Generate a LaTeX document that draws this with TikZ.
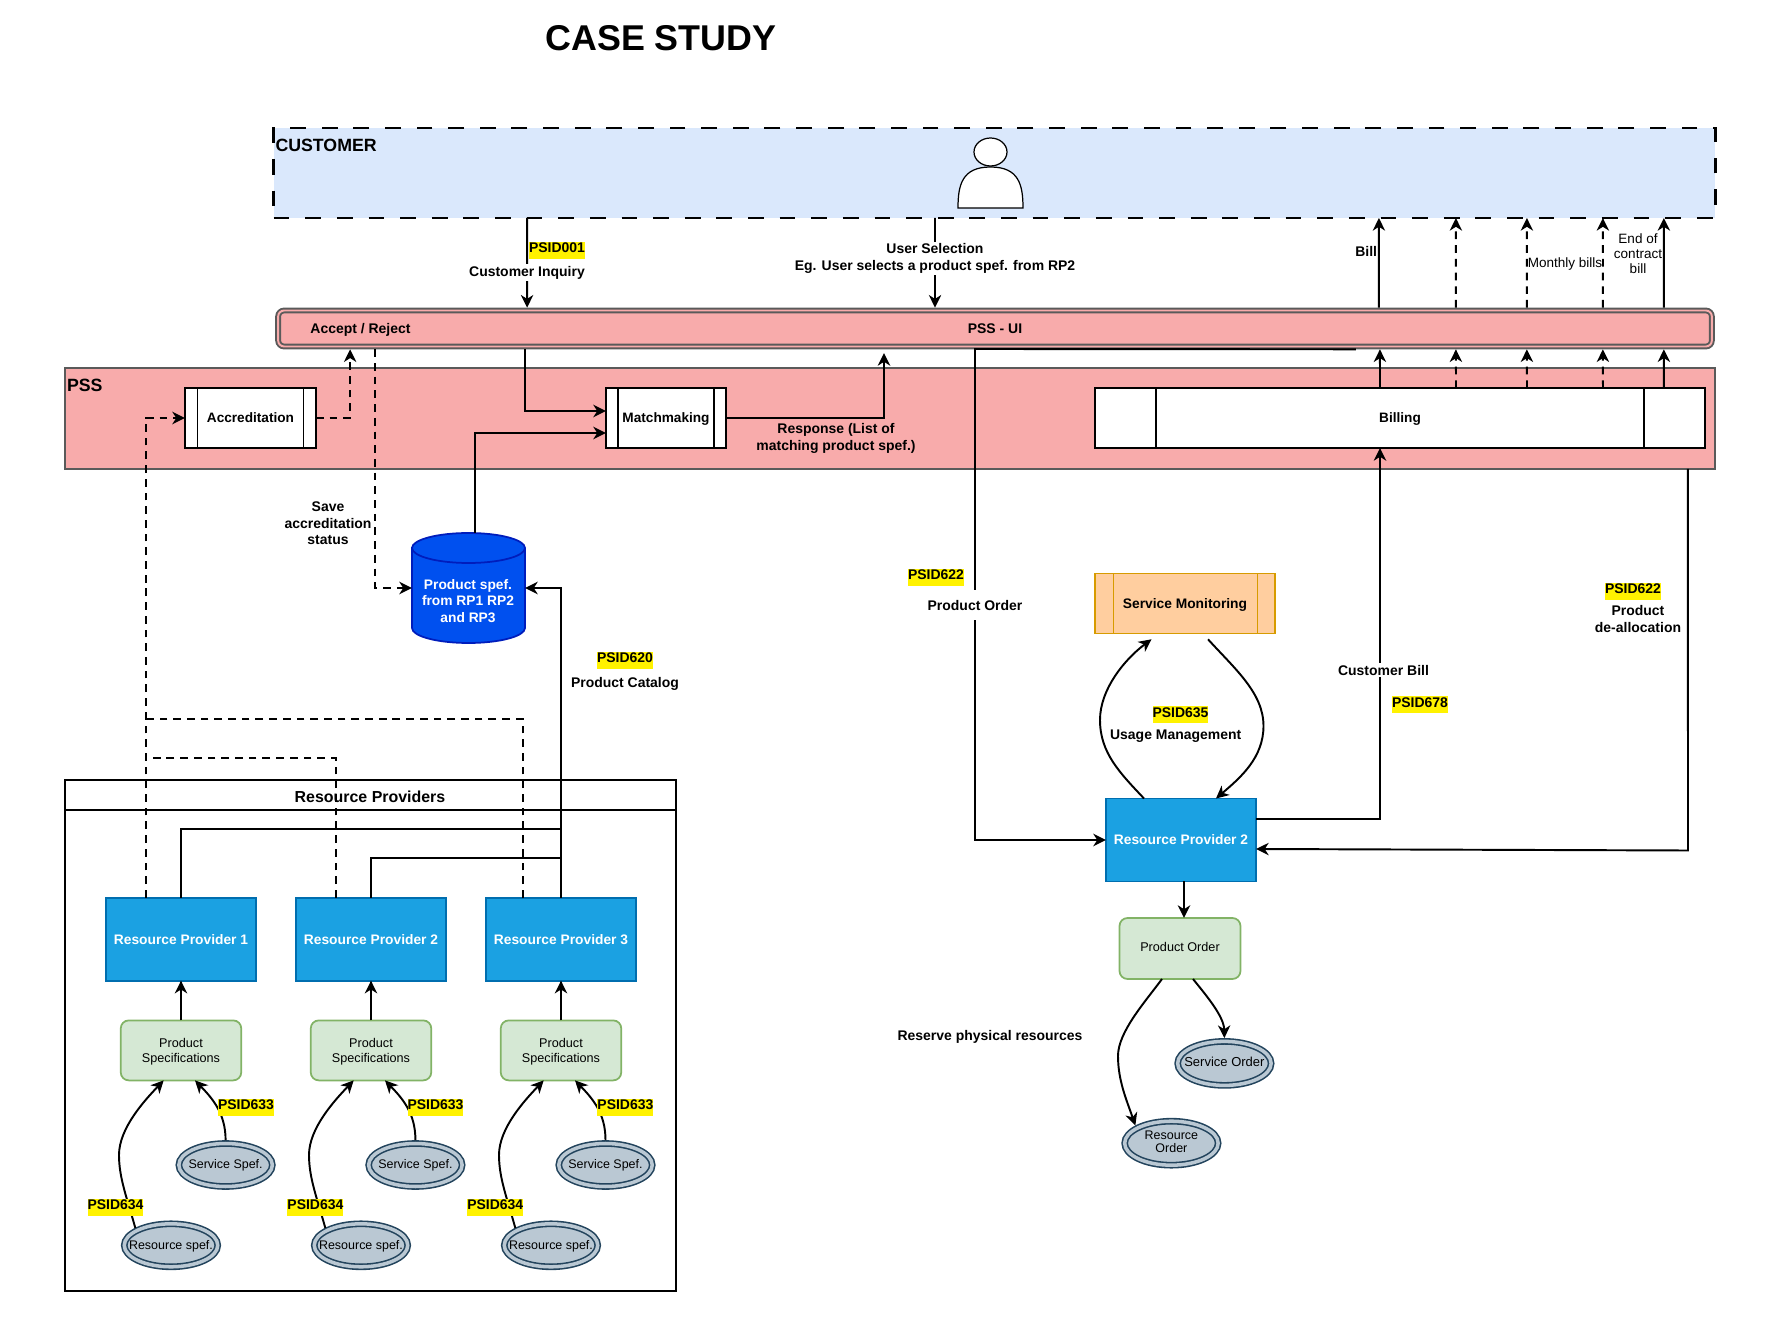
\documentclass[tikz,border=0pt]{standalone}
\usepackage{fontspec}
\setmainfont{Liberation Sans}
\usetikzlibrary{arrows.meta,shapes.geometric}
\definecolor{custfill}{HTML}{DAE8FC}
\definecolor{pssfill}{HTML}{F8ABAB}
\definecolor{pssline}{HTML}{5A5A5A}
\definecolor{rpfill}{HTML}{1BA1E2}
\definecolor{rpline}{HTML}{006EAF}
\definecolor{dbfill}{HTML}{0050EF}
\definecolor{dbline}{HTML}{001DBC}
\definecolor{specfill}{HTML}{D5E8D4}
\definecolor{specline}{HTML}{82B366}
\definecolor{ovalfill}{HTML}{BAC8D3}
\definecolor{ovalline}{HTML}{23445D}
\definecolor{monfill}{HTML}{FFCE9F}
\definecolor{monline}{HTML}{D79B00}
\tikzset{
  every node/.style={outer sep=0pt, inner sep=0pt, align=center, font=\fontsize{7.76}{9.6}\selectfont},
  lbl/.style={font=\bfseries\fontsize{7.95}{9.6}\selectfont, yshift=-0.7pt},
  lblw/.style={lbl, fill=white, inner ysep=1pt},
  tag/.style={lbl, fill=yellow, text height=6.3pt, text depth=3.3pt},
  small/.style={font=\fontsize{7.7}{8.6}\selectfont},
  flow/.style={-{Stealth[length=7.2pt,width=7pt,inset=2.2pt]}, line width=1.1pt},
  dashline/.style={line width=1.1pt, dash pattern=on 4.4pt off 3.4pt},
  dashflow/.style={dashline, -{Stealth[length=7.2pt,width=7pt,inset=2.2pt]}},
  procbox/.style={draw, fill=white, line width=0.9pt, minimum height=1.2cm, text height=6.4pt, text depth=1pt, font=\bfseries\fontsize{7.76}{9.6}\selectfont},
  rpbox/.style={draw=rpline, fill=rpfill, line width=1pt, text=white, minimum width=3cm, minimum height=1.66cm, font=\bfseries\fontsize{7.85}{9.6}\selectfont},
  specbox/.style={draw=specline, fill=specfill, line width=1pt, rounded corners=0.16cm, minimum width=2.41cm, minimum height=1.2cm, text depth=0.4pt, font=\fontsize{7.2}{8.6}\selectfont},
  oval/.style={ellipse, draw=ovalline, double=ovalfill, double distance=2pt, fill=ovalfill, line width=0.9pt, inner xsep=-14pt, inner ysep=-4pt, outer sep=1.9pt, minimum width=1.87cm, minimum height=0.86cm, text depth=0.6pt, font=\fontsize{7.1}{7.9}\selectfont}
}
\begin{document}
\begin{tikzpicture}[x=0.02cm, y=-0.02cm]
  \useasboundingbox (0,0) rectangle (1786,1337);

  % Title
  \node[font=\bfseries\fontsize{20.4}{24}\selectfont] (title) at (661,38) {CASE STUDY};

  % Customer
  \node[draw, fill=custfill, line width=1.4pt, dash pattern=on 9pt off 9pt, minimum width=28.84cm, minimum height=1.8cm] (customer) at (994.5,173) {};
  \node[font=\bfseries\fontsize{10.1}{12}\selectfont, anchor=west] (custname) at (275.5,145) {CUSTOMER};
  \draw[fill=white, line width=0.7pt] (958,208) .. controls (958,185) and (962,167) .. (990.5,167) .. controls (1019,167) and (1023,185) .. (1023,208) -- cycle;
  \draw[fill=white, line width=0.7pt] (990.5,152) ellipse [x radius=16.5, y radius=14];

  % PSS
  \node[draw=pssline, fill=pssfill, line width=1.1pt, minimum width=33cm, minimum height=2.02cm] (pss) at (890,418.5) {};
  \node[font=\bfseries\fontsize{10.1}{12}\selectfont, anchor=west] (pssname) at (67,385) {PSS};
  \node[draw=pssline, double=pssfill, double distance=1.1pt, fill=pssfill, line width=1.1pt, rounded corners=0.12cm, outer sep=1.6pt, minimum width=28.68cm, minimum height=0.72cm] (ui) at (995,328.5) {};
  \node[lbl] (accept) at (360.5,329) {Accept / Reject};
  \node[lbl] (uiname) at (995,327) {PSS - UI};

  % Processes
  \node[procbox, minimum width=2.62cm] (acc) at (250.5,418) {Accreditation};
  \draw[line width=0.7pt] ([xshift=0.25cm]acc.north west) -- ([xshift=0.25cm]acc.south west);
  \draw[line width=0.7pt] ([xshift=-0.25cm]acc.north east) -- ([xshift=-0.25cm]acc.south east);
  \node[procbox, minimum width=2.4cm] (match) at (666,418) {Matchmaking};
  \draw[line width=0.7pt] ([xshift=0.24cm]match.north west) -- ([xshift=0.24cm]match.south west);
  \draw[line width=0.7pt] ([xshift=-0.24cm]match.north east) -- ([xshift=-0.24cm]match.south east);
  \node[procbox, minimum width=12.2cm] (billing) at (1400,418) {Billing};
  \draw[line width=0.7pt] ([xshift=1.22cm]billing.north west) -- ([xshift=1.22cm]billing.south west);
  \draw[line width=0.7pt] ([xshift=-1.22cm]billing.north east) -- ([xshift=-1.22cm]billing.south east);

  % Catalog
  \draw[draw=dbline, fill=dbfill, line width=1pt] (412,548) -- (412,628) arc [start angle=180, end angle=0, x radius=56.5, y radius=15] -- (525,548) arc [start angle=0, end angle=-180, x radius=56.5, y radius=15] -- cycle;
  \draw[draw=dbline, line width=1pt] (412,548) arc [start angle=180, end angle=0, x radius=56.5, y radius=15];
  \node[minimum width=2.26cm, minimum height=2.2cm] (db) at (468.5,588) {};
  \node[text=white, font=\bfseries\fontsize{7.85}{9.6}\selectfont] (dbname) at (468,601) {Product spef.\\from RP1 RP2\\and RP3};

  % Resource providers group
  \draw[line width=1.1pt] (65,780) rectangle (676,1291);
  \draw[line width=1.1pt] (65,810) -- (676,810);
  \node[font=\bfseries\fontsize{9.07}{11}\selectfont] (groupname) at (370,796.5) {Resource Providers};
  \node[rpbox] (rp1) at (181,939.2) {Resource Provider 1};
  \node[rpbox] (rp2) at (371,939.2) {Resource Provider 2};
  \node[rpbox] (rp3) at (561,939.2) {Resource Provider 3};
  \node[specbox] (spec1) at (181,1050.4) {Product\\Specifications};
  \node[specbox] (spec2) at (371,1050.4) {Product\\Specifications};
  \node[specbox] (spec3) at (561,1050.4) {Product\\Specifications};
  \node[oval] (serv1) at (225.6,1165) {Service Spef.};
  \node[oval] (serv2) at (415.4,1165) {Service Spef.};
  \node[oval] (serv3) at (605.5,1165) {Service Spef.};
  \node[oval] (res1) at (171,1245.3) {Resource spef.};
  \node[oval] (res2) at (361,1245.3) {Resource spef.};
  \node[oval] (res3) at (551,1245.3) {Resource spef.};

  % Right side
  \node[draw=monline, fill=monfill, line width=0.9pt, minimum width=3.6cm, minimum height=1.2cm, text height=6.4pt, text depth=1pt, font=\bfseries\fontsize{7.85}{9.6}\selectfont] (mon) at (1185,603.3) {Service Monitoring};
  \draw[monline, line width=0.7pt] ([xshift=0.37cm]mon.north west) -- ([xshift=0.37cm]mon.south west);
  \draw[monline, line width=0.7pt] ([xshift=-0.35cm]mon.north east) -- ([xshift=-0.35cm]mon.south east);
  \node[rpbox] (rpm) at (1181,840) {Resource Provider 2};
  \node[specbox, minimum width=2.42cm, minimum height=1.22cm, text depth=1.5pt] (po) at (1180,948.5) {Product Order};
  \node[oval, font=\fontsize{7.4}{7.9}\selectfont, minimum height=0.88cm, text depth=2pt] (so) at (1224.4,1063.4) {Service Order};
  \node[oval, minimum height=0.88cm, text depth=1.7pt] (ro) at (1171.4,1143.2) {Resource\\Order};

  % Customer and UI
  \draw[flow] ([xshift=-9.35cm]customer.south) -- ([xshift=-9.36cm]ui.north);
  \draw[flow] ([xshift=-1.19cm]customer.south) -- ([xshift=-1.2cm]ui.north);
  \draw[flow] ([xshift=7.68cm]ui.north) -- ([xshift=7.69cm]customer.south);
  \draw[dashflow] ([xshift=9.22cm]ui.north) -- ([xshift=9.23cm]customer.south);
  \draw[dashflow] ([xshift=10.64cm]ui.north) -- ([xshift=10.65cm]customer.south);
  \draw[dashflow] ([xshift=12.16cm]ui.north) -- ([xshift=12.17cm]customer.south);
  \draw[flow] ([xshift=13.38cm]ui.north) -- ([xshift=13.39cm]customer.south);

  % Billing to UI
  \draw[flow] ([xshift=-0.4cm]billing.north) -- ([xshift=7.7cm]ui.south);
  \draw[dashflow] ([xshift=1.12cm]billing.north) -- ([xshift=9.22cm]ui.south);
  \draw[dashflow] ([xshift=2.54cm]billing.north) -- ([xshift=10.64cm]ui.south);
  \draw[dashflow] ([xshift=4.06cm]billing.north) -- ([xshift=12.16cm]ui.south);
  \draw[flow] ([xshift=5.28cm]billing.north) -- ([xshift=13.38cm]ui.south);

  % UI, processes and catalog
  \coordinate (respend) at (884,353);
  \draw[dashflow] (acc.east) -| ([xshift=-12.9cm]ui.south);
  \draw[dashflow] ([xshift=-12.4cm]ui.south) |- (db.west);
  \draw[flow] ([xshift=-9.4cm]ui.south) |- ([yshift=0.14cm]match.west);
  \draw[flow] ([xshift=0.13cm]db.north) |- ([yshift=-0.3cm]match.west);
  \draw[flow] (match.east) -| (respend);

  % Providers to catalog and accreditation
  \coordinate (joina) at (561,829);
  \coordinate (joinb) at (561,858);
  \coordinate (busa) at (146,758);
  \coordinate (busb) at (146,719);
  \draw[flow] (rp3.north) |- (db.east);
  \draw[line width=1.1pt] (rp1.north) |- (joina);
  \draw[line width=1.1pt] (rp2.north) |- (joinb);
  \draw[dashflow] ([xshift=-0.7cm]rp1.north) |- (acc.west);
  \draw[dashline] ([xshift=-0.7cm]rp2.north) |- (busa);
  \draw[dashline] ([xshift=-0.76cm]rp3.north) |- (busb);

  % Specifications
  \draw[flow] (spec1.north) -- (rp1.south);
  \draw[flow] (spec2.north) -- (rp2.south);
  \draw[flow] (spec3.north) -- (rp3.south);
  \draw[flow] (serv1.north) .. controls (225.6,1113) and (212,1098) .. (spec1.295);
  \draw[flow] (serv2.north) .. controls (415.6,1113) and (402,1098) .. (spec2.295);
  \draw[flow] (serv3.north) .. controls (605.6,1113) and (592,1098) .. (spec3.295);
  \draw[flow] (res1.154) .. controls (127,1198) and (119,1178) .. (119,1155) .. controls (119,1128) and (145,1100) .. (spec1.240);
  \draw[flow] (res2.154) .. controls (317,1198) and (309,1178) .. (309,1155) .. controls (309,1128) and (335,1100) .. (spec2.240);
  \draw[flow] (res3.154) .. controls (507,1198) and (499,1178) .. (499,1155) .. controls (499,1128) and (525,1100) .. (spec3.240);

  % Orders
  \coordinate (ordturn) at (975,349);
  \coordinate (dealloc) at (1688,850.5);
  \draw[flow] ([xshift=7.22cm]ui.south) -- (ordturn) |- (rpm.west);
  \draw[flow] ([yshift=0.42cm]rpm.east) -| ([xshift=-0.4cm]billing.south);
  \draw[flow] ([xshift=15.96cm]pss.south) -- (dealloc) -- ([yshift=-0.18cm]rpm.east);
  \draw[flow] ([xshift=-0.74cm]rpm.north) .. controls (1120,773) and (1100,753) .. (1100,720) .. controls (1100,689) and (1125,659) .. ([xshift=-0.67cm,yshift=-0.12cm]mon.south);
  \draw[flow] ([xshift=0.46cm,yshift=-0.12cm]mon.south) .. controls (1235,669) and (1263.5,693) .. (1263.5,726) .. controls (1263.5,758) and (1240,778) .. ([xshift=0.7cm]rpm.north);
  \draw[flow] ([xshift=0.06cm]rpm.south) -- ([xshift=0.08cm]po.north);
  \draw[flow] ([xshift=0.26cm]po.south) .. controls (1205,994) and (1224,1016) .. (so.north);
  \draw[flow] ([xshift=-0.36cm]po.south) .. controls (1145,1002) and (1118,1032) .. (1118,1056) .. controls (1118,1081) and (1127,1101) .. (ro.154);

  % Labels
  \node[tag] (tag001) at (557,249) {PSID001};
  \node[lblw] (lblinquiry) at (527,271.5) {Customer Inquiry};
  \node[lblw] (lblselect) at (935,257.5) {User Selection\\Eg. User selects a product spef. from RP2};
  \node[lbl, anchor=east] (lblbill) at (1377,250) {Bill};
  \node[small, fill=white] (lblmonthly) at (1565,264) {Monthly bills};
  \node[small, fill=white] (lblend) at (1638,253.5) {End of\\contract\\bill};
  \node[lbl] (lblresp) at (836,437) {Response (List of\\matching product spef.)};
  \node[lbl] (lblsave) at (328,522) {Save\\accreditation\\status};
  \node[tag] (tag620) at (625,659) {PSID620};
  \node[lbl] (lblcatalog) at (625,683) {Product Catalog};
  \node[tag] (tag622a) at (936,576) {PSID622};
  \node[lblw, minimum height=0.6cm] (lblorder) at (975,604) {Product Order};
  \node[tag] (tag635) at (1180.5,713.5) {PSID635};
  \node[lbl] (lblusage) at (1175.7,734.5) {Usage Management};
  \node[lblw] (lblcustbill) at (1383.5,669) {Customer Bill};
  \node[tag] (tag678) at (1420,703.5) {PSID678};
  \node[tag] (tag622b) at (1633,590) {PSID622};
  \node[lbl] (lbldealloc) at (1638,617.5) {Product\\de-allocation};
  \node[lbl] (lblreserve) at (990,1036) {Reserve physical resources};
  \node[tag] (tag633a) at (246,1106) {PSID633};
  \node[tag] (tag633b) at (435.5,1106) {PSID633};
  \node[tag] (tag633c) at (625.4,1106) {PSID633};
  \node[tag] (tag634a) at (115.5,1206) {PSID634};
  \node[tag] (tag634b) at (315.4,1206) {PSID634};
  \node[tag] (tag634c) at (495.3,1206) {PSID634};
\end{tikzpicture}
\end{document}
